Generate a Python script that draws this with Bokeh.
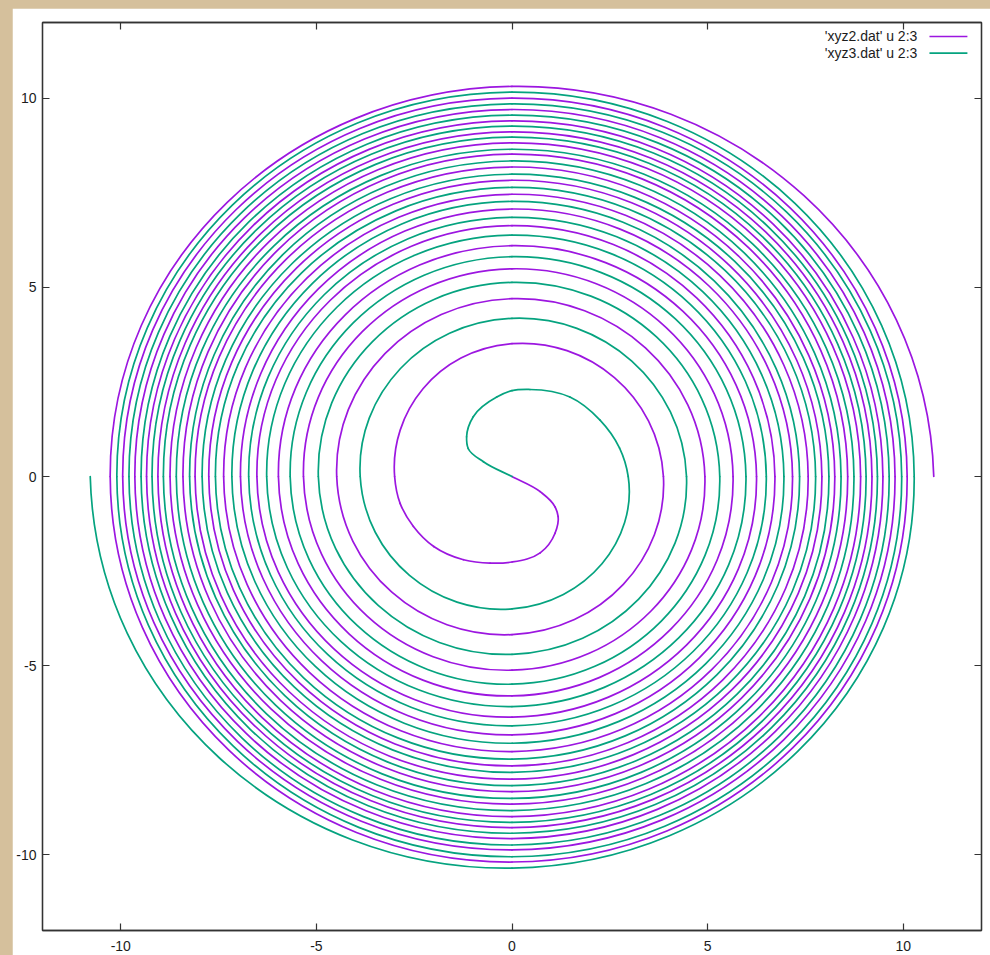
import numpy as np
from bokeh.plotting import figure
from bokeh.models import Range1d, FixedTicker, LinearAxis, Label, Arrow, ColumnDataSource
from bokeh.embed import file_html
from bokeh.resources import INLINE

# ---------------- data ----------------
series_labels = ["'xyz2.dat' u 2:3", "'xyz3.dat' u 2:3"]
series_colors = ["#9c16e0", "#05a37f"]

# xyz2 (purple): the central hook, from the origin to its first crossing of the negative x axis
xyz2_inner_x = [0.00, 0.72, 1.10, 1.18, 1.10, 0.72, 0.00, -0.56, -1.24, -2.00, -2.52, -2.86, -3.00]
xyz2_inner_y = [0.00, -0.40, -0.80, -1.06, -1.50, -2.02, -2.26, -2.29, -2.20, -1.85, -1.32, -0.71, 0.00]
# radius at every following axis crossing, clockwise (top, right, bottom, left, top, ...)
xyz2_crossing_r = [3.51, 3.87,
                   4.18, 4.48, 4.70, 4.93,
                   5.12, 5.33, 5.49, 5.65,
                   5.80, 5.97, 6.10, 6.25,
                   6.36, 6.52, 6.63, 6.72,
                   6.83, 6.94, 7.07, 7.17,
                   7.27, 7.37, 7.46, 7.57,
                   7.65, 7.75, 7.83, 7.92,
                   8.00, 8.10, 8.18, 8.25,
                   8.33, 8.41, 8.52, 8.58,
                   8.66, 8.74, 8.82, 8.91,
                   8.99, 9.05, 9.11, 9.20,
                   9.28, 9.34, 9.40, 9.48,
                   9.57, 9.64, 9.70, 9.79,
                   9.87, 9.95, 10.00, 10.10,
                   10.19, 10.27, 10.31, 10.78]

# xyz3 (green): the central hook, from the origin to its first crossing of the positive x axis
xyz3_inner_x = [0.00, -0.73, -1.12, -1.16, -0.99, -0.39, 0.00, 0.46, 1.48, 2.25, 2.75, 2.97]
xyz3_inner_y = [0.00, 0.39, 0.74, 1.05, 1.58, 2.10, 2.27, 2.30, 2.10, 1.49, 0.75, 0.00]
# radius at every following axis crossing, clockwise (bottom, left, top, right, bottom, ...)
xyz3_crossing_r = [3.50, 3.88,
                   4.18, 4.46, 4.70, 4.95,
                   5.13, 5.31, 5.49, 5.67,
                   5.81, 5.98, 6.08, 6.27,
                   6.38, 6.50, 6.59, 6.73,
                   6.85, 6.95, 7.05, 7.16,
                   7.27, 7.35, 7.47, 7.58,
                   7.64, 7.76, 7.82, 7.92,
                   7.99, 8.10, 8.17, 8.24,
                   8.34, 8.41, 8.51, 8.58,
                   8.65, 8.74, 8.83, 8.91,
                   8.97, 9.05, 9.14, 9.20,
                   9.26, 9.34, 9.43, 9.48,
                   9.55, 9.64, 9.74, 9.79,
                   9.85, 9.96, 10.05, 10.10,
                   10.16, 10.28, 10.35, 10.78]

x_ticks = [-10, -5, 0, 5, 10]
y_ticks = [-10, -5, 0, 5, 10]
tick_labels = {-10: "-10", -5: "-5", 0: "0", 5: "5", 10: "10"}
axis_limits = (-12, 12)


# ---------------- smooth rendering of the read points with Bezier pieces ----------------
def _unit(v):
    n = np.hypot(v[0], v[1])
    return v / n if n > 0 else v


def spiral_bezier(inner_x, inner_y, crossing_r):
    ix = np.asarray(inner_x, float)
    iy = np.asarray(inner_y, float)
    m = len(ix)
    th_in = np.unwrap(np.arctan2(iy[1:], ix[1:]))
    r_in = np.hypot(ix[1:], iy[1:])
    n = len(crossing_r)
    th_out = th_in[-1] - 0.5 * np.pi * np.arange(1, n + 1)
    th = np.concatenate([th_in, th_out])
    r = np.concatenate([r_in, np.asarray(crossing_r, float)])
    dr = np.gradient(r, th)
    er = np.stack([np.cos(th), np.sin(th)], axis=1)
    et = np.stack([-np.sin(th), np.cos(th)], axis=1)
    T = dr[:, None] * er + r[:, None] * et          # dP/dtheta at every knot but the origin
    P = np.vstack([[ix[0], iy[0]], r[:, None] * er])
    P[1:m] = np.stack([ix[1:], iy[1:]], axis=1)

    segs = []
    # inner hook: chord-length Hermite
    U = np.zeros((m, 2))
    U[0] = _unit(P[1] - P[0])
    for i in range(1, m - 1):
        a, b = P[i] - P[i - 1], P[i + 1] - P[i]
        d0, d1 = np.hypot(*a), np.hypot(*b)
        U[i] = _unit(a / d0 * d1 / (d0 + d1) + b / d1 * d0 / (d0 + d1))
    U[m - 1] = _unit(-T[m - 2])
    for i in range(m - 1):
        d = np.hypot(*(P[i + 1] - P[i]))
        c0 = P[i] + U[i] * d / 3.0
        c1 = P[i + 1] - U[i + 1] * d / 3.0
        segs.append((P[i], P[i + 1], c0, c1))
    # outer turns: polar Hermite between axis crossings
    for k in range(m - 2, len(th) - 1):
        dth = th[k + 1] - th[k]
        h = 4.0 / 3.0 * np.tan(dth / 4.0)
        p0, p1 = P[k + 1], P[k + 2]
        c0 = p0 + h * T[k]
        c1 = p1 - h * T[k + 1]
        segs.append((p0, p1, c0, c1))
    s = np.array(segs)
    return ColumnDataSource(dict(x0=s[:, 0, 0], y0=s[:, 0, 1], x1=s[:, 1, 0], y1=s[:, 1, 1],
                                 cx0=s[:, 2, 0], cy0=s[:, 2, 1], cx1=s[:, 3, 0], cy1=s[:, 3, 1]))


FONT = "Liberation Sans"
TXT = "#1c1c1c"
FRAME = "#333333"

p = figure(width=978, height=947,
           x_range=Range1d(*axis_limits), y_range=Range1d(*axis_limits),
           output_backend="svg", toolbar_location=None,
           min_border_left=30, min_border_right=9, min_border_top=14, min_border_bottom=25,
           background_fill_color="white", border_fill_color="white",
           outline_line_color=FRAME, outline_line_width=1.3)
p.xgrid.visible = False
p.ygrid.visible = False

for ax, ticks, stand in ((p.xaxis[0], x_ticks, 10), (p.yaxis[0], y_ticks, 6)):
    ax.ticker = FixedTicker(ticks=ticks)
    ax.major_label_overrides = tick_labels
    ax.major_tick_in = 7
    ax.major_tick_out = 0
    ax.minor_tick_in = 0
    ax.minor_tick_out = 0
    ax.axis_line_color = FRAME
    ax.axis_line_width = 1.3
    ax.major_tick_line_color = FRAME
    ax.major_tick_line_width = 1.2
    ax.major_label_text_font = FONT
    ax.major_label_text_font_size = "14px"
    ax.major_label_text_color = TXT
    ax.major_label_standoff = stand

for side, ticks in (("above", x_ticks), ("right", y_ticks)):
    ax = LinearAxis(ticker=FixedTicker(ticks=ticks), major_tick_in=7, major_tick_out=0,
                    minor_tick_in=0, minor_tick_out=0, axis_line_color=FRAME, axis_line_width=1.3,
                    major_tick_line_color=FRAME, major_tick_line_width=1.2,
                    major_label_text_font_size="0px",
                    major_label_standoff=0, major_label_text_alpha=0)
    p.add_layout(ax, side)

for (ix, iy, cr), color in zip(((xyz2_inner_x, xyz2_inner_y, xyz2_crossing_r),
                               (xyz3_inner_x, xyz3_inner_y, xyz3_crossing_r)), series_colors):
    src = spiral_bezier(ix, iy, cr)
    p.bezier(x0="x0", y0="y0", x1="x1", y1="y1", cx0="cx0", cy0="cy0", cx1="cx1", cy1="cy1",
             source=src, line_color=color, line_width=1.7, line_cap="round")

# gnuplot-style key: label, then a short sample line to its right
key_rows_y = [11.63, 11.19]
for label, color, ky in zip(series_labels, series_colors, key_rows_y):
    p.add_layout(Label(x=10.36, y=ky, text=label, text_align="right", text_baseline="middle",
                       text_font=FONT, text_font_size="14px", text_color=TXT))
    p.add_layout(Arrow(end=None, x_start=10.67, y_start=ky, x_end=11.64, y_end=ky,
                       line_color=color, line_width=1.7))

PAGE = """
{% block postamble %}
<style>
html, body { background-color: #d5c09c !important; overflow: hidden !important; }
body { margin: 0 !important; padding: 8px 0 0 12px !important; box-sizing: border-box; }
</style>
{% endblock %}
"""

open("out.html", "w").write(file_html(p, INLINE, template=PAGE))
